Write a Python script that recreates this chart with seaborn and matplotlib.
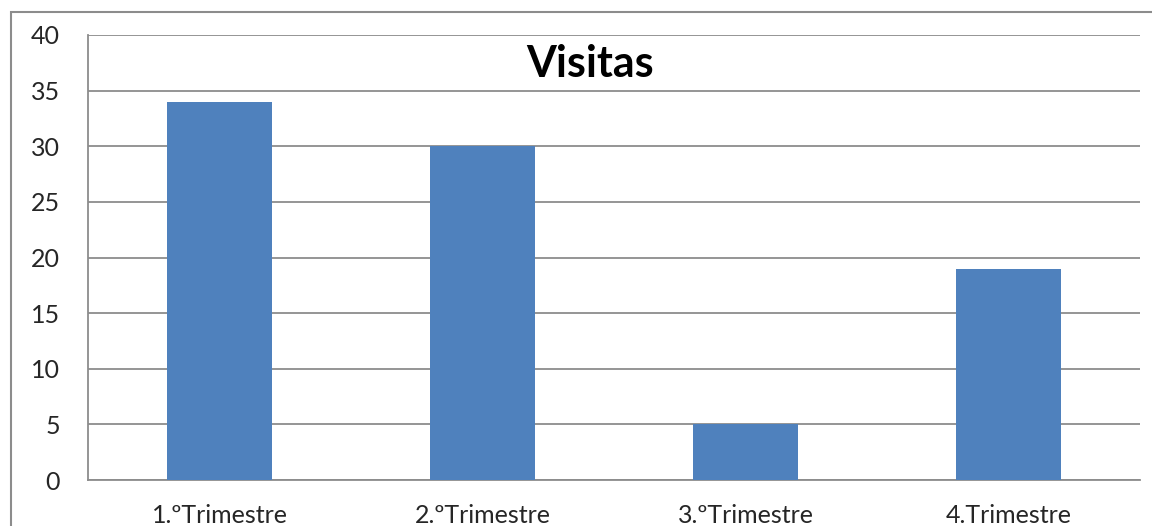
import seaborn as sns
import matplotlib.pyplot as plt
import matplotlib.patches as patches
import pandas as pd

trimestres = ['1.ºTrimestre', '2.ºTrimestre', '3.ºTrimestre', '4.Trimestre']
visitas = [34, 30, 5, 19]

sns.set_style('white')
plt.rcParams['font.family'] = ['Lato', 'DejaVu Sans']

df = pd.DataFrame({'trimestre': trimestres, 'visitas': visitas})

fig = plt.figure(figsize=(11.52, 5.26), dpi=100)
ax = fig.add_axes([88/1152, 46/526, (1140-88)/1152, (480-35)/526])

sns.barplot(data=df, x='trimestre', y='visitas', color='#4F81BD', saturation=1,
            width=0.4, linewidth=0, ax=ax, zorder=3)

ax.set_xlim(-0.5, 3.5)
ax.set_ylim(0, 40)
ax.set_yticks(range(0, 41, 5))
ax.yaxis.grid(True, color='#8c8c8c', linewidth=1.3, zorder=0)
ax.set_xlabel('')
ax.set_ylabel('')

for s in ['top', 'right']:
    ax.spines[s].set_visible(False)
for s in ['left', 'bottom']:
    ax.spines[s].set_color('#8c8c8c')
    ax.spines[s].set_linewidth(1.3)

ax.set_xticks([-0.5, 0.5, 1.5, 2.5, 3.5], minor=True)
ax.tick_params(axis='x', which='major', length=0, pad=17, labelsize=18)
ax.tick_params(axis='x', which='minor', length=8, width=1.3, color='#8c8c8c')
ax.tick_params(axis='y', length=8, width=1.3, color='#8c8c8c', labelsize=18, pad=12)

ax.text(0.477, 0.935, 'Visitas', transform=ax.transAxes, ha='center', va='center',
        fontsize=31, fontweight='bold', color='black')

border = patches.Rectangle((11/1152, -0.1), 1.2, (526-12)/526 + 0.1,
                           transform=fig.transFigure, fill=False,
                           edgecolor='#8c8c8c', linewidth=1.5)
fig.patches.append(border)

fig.savefig('out.png', dpi=100)
